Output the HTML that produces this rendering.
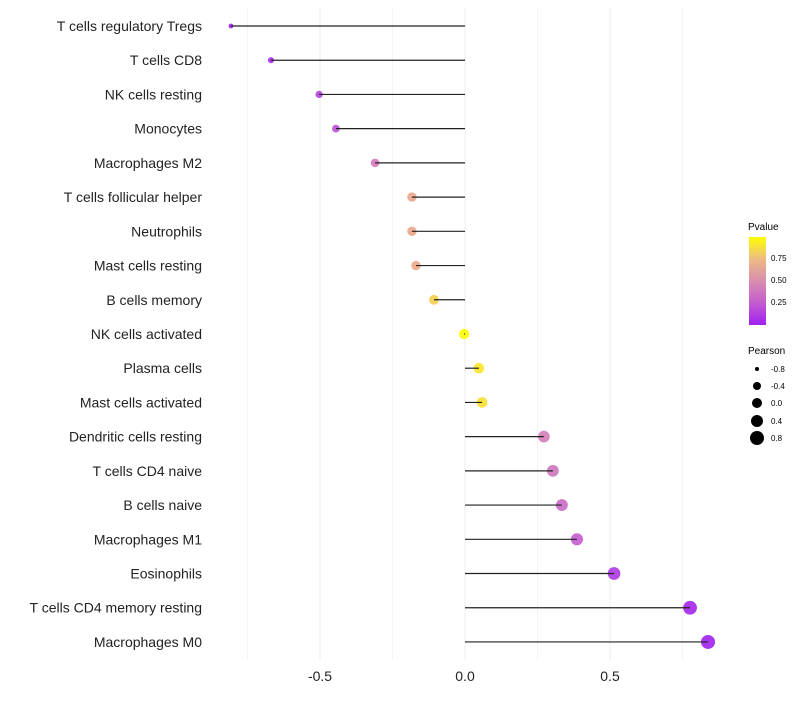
<!DOCTYPE html>
<html><head><meta charset="utf-8"><style>
body{margin:0;background:#fff;font-family:"Liberation Sans",sans-serif;}
svg text{font-family:"Liberation Sans",sans-serif;}
</style></head><body>
<svg id="chart" width="800" height="700">
<defs><linearGradient id="pg" x1="0" y1="1" x2="0" y2="0">
<stop offset="0" stop-color="#A020F0"/><stop offset="0.25" stop-color="#C45CCF"/>
<stop offset="0.5" stop-color="#D98DAE"/><stop offset="0.75" stop-color="#EDBB83"/>
<stop offset="1" stop-color="#FFFF00"/></linearGradient></defs>
<g id="grid"></g><g id="marks"></g><g id="labels"></g>
<g>
<text x="748" y="230" font-size="10">Pvalue</text>
<rect x="749" y="237" width="17" height="88" fill="url(#pg)"/>
<text x="771" y="261" font-size="8">0.75</text>
<text x="771" y="283" font-size="8">0.50</text>
<text x="771" y="305" font-size="8">0.25</text>
</g>
<g>
<text x="748" y="354" font-size="10">Pearson</text>
<circle cx="757" cy="369" r="2" fill="#000"/><text x="771" y="372" font-size="8">-0.8</text>
<circle cx="757" cy="386" r="4" fill="#000"/><text x="771" y="389" font-size="8">-0.4</text>
<circle cx="757" cy="403" r="5" fill="#000"/><text x="771" y="406" font-size="8">0.0</text>
<circle cx="757" cy="421" r="6" fill="#000"/><text x="771" y="424" font-size="8">0.4</text>
<circle cx="757" cy="438" r="7" fill="#000"/><text x="771" y="441" font-size="8">0.8</text>
</g>
</svg>
<script>
const categories=["T cells regulatory  Tregs","T cells CD8","NK cells resting","Monocytes","Macrophages M2","T cells follicular helper","Neutrophils","Mast cells resting","B cells memory","NK cells activated","Plasma cells","Mast cells activated","Dendritic cells resting","T cells CD4 naive","B cells naive","Macrophages M1","Eosinophils","T cells CD4 memory resting","Macrophages M0"];
const pearson=[-0.807,-0.669,-0.503,-0.445,-0.31,-0.183,-0.183,-0.169,-0.107,-0.003,0.048,0.059,0.272,0.303,0.334,0.386,0.514,0.776,0.838];
const pvalues=[0.0,0.05,0.15,0.2,0.4,0.7,0.7,0.72,0.85,0.99,0.92,0.9,0.42,0.37,0.32,0.25,0.1,0.02,0.0];
const xTicks=[-0.5,0.0,0.5];
const xTickLabels=["-0.5","0.0","0.5"];
const NS="http://www.w3.org/2000/svg";
const xs=v=>465+v*290;
const ys=i=>26+i*34.22;
const rs=v=>Math.max(2,Math.sqrt(30+28*v)-0.3);
const stops=[[0,[160,32,240]],[0.25,[196,92,207]],[0.5,[217,141,174]],[0.75,[237,172,128]],[1,[255,255,0]]];
function col(p){for(let k=1;k<stops.length;k++){if(p<=stops[k][0]){const a=stops[k-1],b=stops[k],t=(p-a[0])/(b[0]-a[0]);return "rgb("+a[1].map((c,j)=>Math.round(c+(b[1][j]-c)*t)).join(",")+")";}}return "rgb(255,255,0)";}
function mk(tag,attrs,parent){const e=document.createElementNS(NS,tag);for(const k in attrs)e.setAttribute(k,attrs[k]);document.getElementById(parent).appendChild(e);return e;}
for(let v=-0.75;v<=0.751;v+=0.25){
const g=mk("line",{x1:xs(v),x2:xs(v),y1:8,y2:660,stroke:"#ececec","stroke-width":Math.abs(v*4)%2===0?1:0.6},"grid");


}
xTicks.forEach((t,i)=>{
const tx=mk("text",{x:xs(t),y:681,"font-size":14,"text-anchor":"middle",fill:"#222"},"labels");tx.textContent=xTickLabels[i];


});
categories.forEach((c,i)=>{
const y=ys(i);
const pt=mk("circle",{cx:xs(pearson[i]),cy:y,r:rs(pearson[i]),fill:col(pvalues[i]),"fill-opacity":0.9},"marks");


const ln=mk("line",{x1:xs(0),x2:xs(pearson[i]),y1:y,y2:y,stroke:"#222","stroke-width":1.2},"marks");


const tx=mk("text",{x:202,y:y+5,"font-size":14,"text-anchor":"end",fill:"#222"},"labels");tx.textContent=c;


});
</script>
</body></html>
